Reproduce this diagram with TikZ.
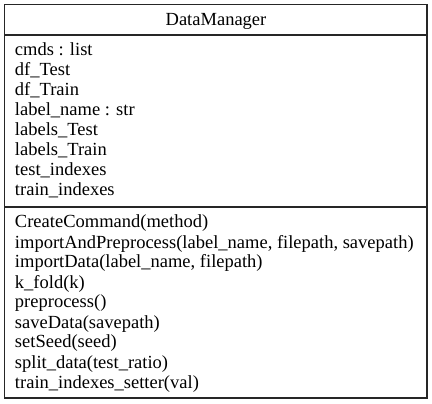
\documentclass[tikz,border=0pt]{standalone}
\usepackage{fontspec}
\setmainfont{Liberation Serif}
\begin{document}
\begin{tikzpicture}[x=1pt,y=1pt,
  every node/.style={inner sep=0pt, outer sep=0pt},
  part/.style={draw=black!85, line width=1.3pt, minimum width=422.5pt, anchor=north west},
  txt/.style={font=\fontsize{18.5}{20}\selectfont, anchor=base west},
  ttl/.style={font=\fontsize{18.5}{20}\selectfont, anchor=base}]
\useasboundingbox (0,0) rectangle (432,-404);
\node[part, minimum height=30.5pt] (head) at (4.5,-4.5) {};
\node[part, minimum height=172pt] (attrs) at (4.5,-35) {};
\node[part, minimum height=191pt] (ops) at (4.5,-207) {};
\node[ttl] (title) at (216,-26) {DataManager};
\foreach \t [count=\i] in {cmds : list, df\_Test, df\_Train, label\_name : str, labels\_Test, labels\_Train, test\_indexes, train\_indexes}
  \node[txt] (a\i) at (15,{-56-20*(\i-1)}) {\t};
\foreach \t [count=\i] in {CreateCommand(method), {importAndPreprocess(label\_name, filepath, savepath)}, {importData(label\_name, filepath)}, k\_fold(k), preprocess(), saveData(savepath), setSeed(seed), split\_data(test\_ratio), train\_indexes\_setter(val)}
  \node[txt] (m\i) at (15,{-228-20*(\i-1)}) {\t};
\end{tikzpicture}
\end{document}
